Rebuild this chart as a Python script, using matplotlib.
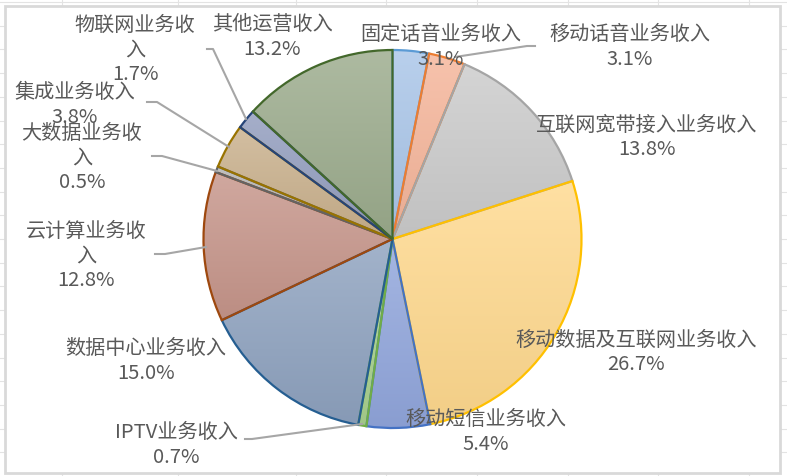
import numpy as np
import matplotlib
matplotlib.use('Agg')
import matplotlib.pyplot as plt
from matplotlib.patches import Rectangle
from matplotlib.colors import to_rgb

plt.rcParams['font.family'] = ['Noto Sans CJK SC', 'DejaVu Sans']

# 데이터
labels = ['固定话音业务收入', '移动话音业务收入', '互联网宽带接入业务收入', '移动数据及互联网业务收入',
          '移动短信业务收入', 'IPTV业务收入', '数据中心业务收入', '云计算业务收\n入',
          '大数据业务收\n入', '集成业务收入', '物联网业务收\n入', '其他运营收入']
values = [3.1, 3.1, 13.8, 26.7, 5.4, 0.7, 15.0, 12.8, 0.5, 3.8, 1.7, 13.2]

face_colors = ['#a9c5e8', '#f5b59a', '#cbcbcb', '#ffd98e', '#91a6dc', '#a9d18e',
               '#8ea2bf', '#c6958a', '#b2b2b2', '#c9b08c', '#929dbe', '#9bab8c']
edge_colors = ['#5b9bd5', '#ed7d31', '#a5a5a5', '#ffc000', '#4472c4', '#70ad47',
               '#255e91', '#9e480e', '#636363', '#997300', '#264478', '#43682b']

# 라벨 위치 (픽셀, 위에서부터)
label_pos = [(441, 47), (630, 47), (647, 137), (636, 352), (486, 432), (176, 445),
             (146, 361), (86, 256), (82, 158), (75, 105), (135, 50), (272, 37)]
# 리더선 (픽셀)
leaders = {
    1: [(535, 47), (527, 47), (455, 58)],
    5: [(245, 440), (252, 440), (362, 425)],
    7: [(155, 255), (165, 255), (206, 248)],
    8: [(152, 157), (162, 157), (217, 172)],
    9: [(147, 103), (157, 103), (229, 148)],
    10: [(207, 50), (213, 50), (246, 120)],
}

W, H = 787, 477
fig = plt.figure(figsize=(W / 100, H / 100), dpi=100)
ax = fig.add_axes([0, 0, 1, 1])
ax.set_xlim(0, W)
ax.set_ylim(0, H)
ax.axis('off')

# 엑셀 배경 격자
for y in np.arange(3, H, 23.7):
    ax.axhline(H - y, color='#e3e3e3', lw=0.8, zorder=0)
for x in [62, 178, 296, 386, 477, 568, 658, 749]:
    ax.axvline(x, color='#e3e3e3', lw=0.8, zorder=0)
ax.add_patch(Rectangle((5, H - 474), 775, 467, facecolor='white',
                       edgecolor='#d9d9d9', lw=2, zorder=0.5))

cx, cy, r = 392.5, H - 240, 189
wedges, _ = ax.pie(values, startangle=90, counterclock=False, center=(cx, cy),
                   radius=r, frame=True, colors=face_colors)
ax.set_xlim(0, W)
ax.set_ylim(0, H)
ax.axis('off')

# 그라데이션 채우기
for w, fc, ec in zip(wedges, face_colors, edge_colors):
    t = np.radians(np.linspace(w.theta1, w.theta2, 60))
    xs = np.concatenate([[cx], cx + r * np.cos(t)])
    ys = np.concatenate([[cy], cy + r * np.sin(t)])
    base = np.array(to_rgb(fc))
    top = base * 0.82 + 0.18
    bot = base * 0.95
    g = np.linspace(0, 1, 64)[:, None]
    img = top[None, :] * (1 - g) + bot[None, :] * g
    img = np.repeat(img[:, None, :], 2, axis=1)
    im = ax.imshow(img, extent=(xs.min(), xs.max(), ys.min(), ys.max()),
                   origin='upper', aspect='auto', interpolation='bilinear', zorder=1)
    im.set_clip_path(w)
    w.set_facecolor('none')
    w.set_edgecolor(ec)
    w.set_linewidth(1.6)
    w.set_zorder(2)

ax.set_xlim(0, W)
ax.set_ylim(0, H)

for i, (lab, v) in enumerate(zip(labels, values)):
    x, y = label_pos[i]
    ax.text(x, H - y, f'{lab}\n{v:.1f}%', ha='center', va='center', fontsize=14.5,
            color='#595959', linespacing=1.2, zorder=4)

for i, pts in leaders.items():
    px = [p[0] for p in pts]
    py = [H - p[1] for p in pts]
    ax.plot(px, py, color='#a6a6a6', lw=1.5, zorder=3)

fig.savefig('out.png', dpi=100, facecolor='white')
